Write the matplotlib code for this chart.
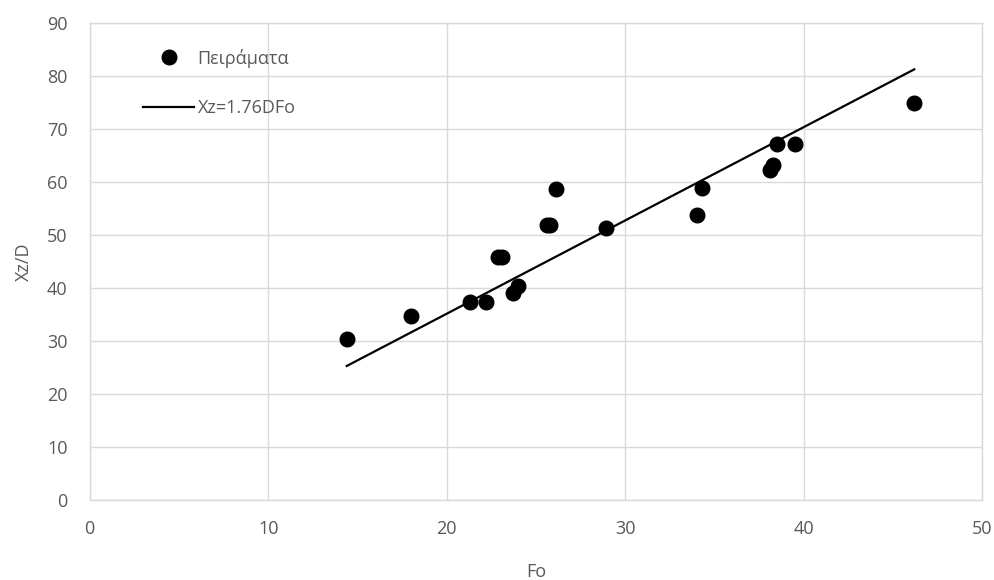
import numpy as np
import matplotlib.pyplot as plt

plt.rcParams['font.family'] = ['Open Sans', 'DejaVu Sans']

# Experimental points (Fo, Xz/D)
fo = [14.4, 18.0, 21.3, 22.2, 22.9, 23.1, 23.7, 24.0, 25.6, 25.8, 26.1, 28.9,
      34.0, 34.3, 38.1, 38.3, 38.5, 39.5, 46.2]
xz_d = [30.4, 34.8, 37.5, 37.5, 45.9, 45.9, 39.2, 40.5, 51.9, 51.9, 58.8, 51.4,
        53.8, 58.9, 62.3, 63.2, 67.3, 67.3, 75.0]

# Fitted relation Xz = 1.76 D Fo
coef = 1.76
fo_fit = np.array([14.4, 46.2])
xz_fit = coef * fo_fit

grey = '#595959'
grid = '#d9d9d9'

fig = plt.figure(figsize=(9.95, 5.8), dpi=100)
ax = fig.add_axes([0.0902, 0.1374, 0.8968, 0.8224])

ax.plot(fo, xz_d, 'o', color='black', markersize=10.5, label='Πειράματα', zorder=3)
ax.plot(fo_fit, xz_fit, '-', color='black', linewidth=1.6, label='Xz=1.76DFo', zorder=2)

ax.set_xlim(0, 50)
ax.set_ylim(0, 90)
ax.set_xticks(np.arange(0, 51, 10))
ax.set_yticks(np.arange(0, 91, 10))
ax.grid(True, color=grid, linewidth=1.0)
ax.set_axisbelow(True)
for s in ax.spines.values():
    s.set_color(grid)
    s.set_linewidth(1.0)
ax.tick_params(axis='x', length=0, colors=grey, labelsize=13, pad=14)
ax.tick_params(axis='y', length=0, colors=grey, labelsize=13, pad=16)

ax.set_xlabel('Fo', color=grey, fontsize=13, labelpad=18)
ax.set_ylabel('Xz/D', color=grey, fontsize=13, labelpad=10)

leg = ax.legend(loc='upper left', bbox_to_anchor=(0.042, 0.981), frameon=False,
                fontsize=13, labelspacing=1.75, handlelength=2.8, handletextpad=0.2)
for t in leg.get_texts():
    t.set_color(grey)

plt.savefig('out.png', dpi=100)
